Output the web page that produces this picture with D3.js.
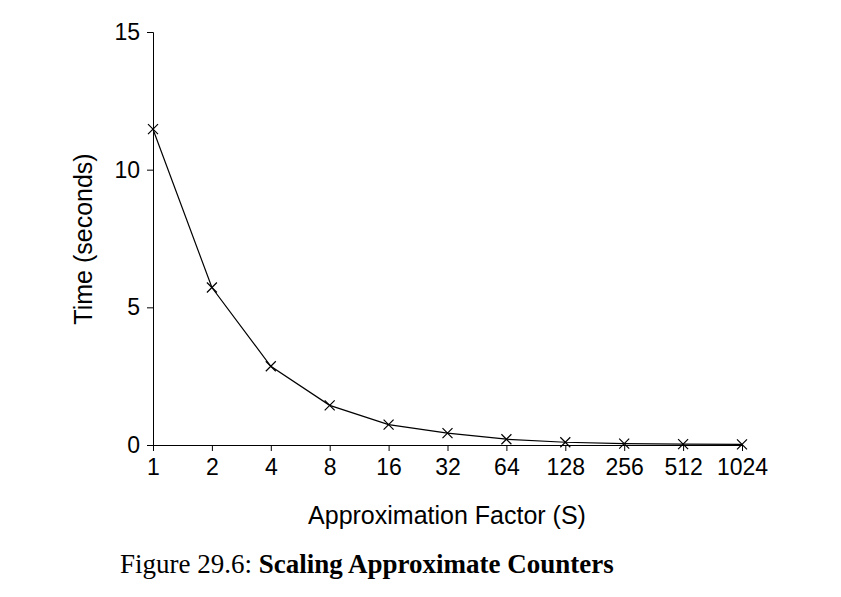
<!DOCTYPE html>
<html><head><meta charset="utf-8">
<script src="https://cdn.jsdelivr.net/npm/d3@7"></script>
<style>body{margin:0;background:#fff}</style>
</head><body>
<svg id="chart" width="841" height="597"></svg>
<script>
const factors = ["1","2","4","8","16","32","64","128","256","512","1024"];
const times = [11.47, 5.72, 2.86, 1.44, 0.74, 0.43, 0.21, 0.1, 0.05, 0.03, 0.02];
const yTicks = [0, 5, 10, 15];

const svg = d3.select("#chart");
const x = d3.scalePoint().domain(factors).range([153, 742]);
const y = d3.scaleLinear().domain([0, 15]).range([445, 32]);
const font = "'Liberation Sans', Arial, sans-serif";

const xAxis = svg.append("g").attr("transform", "translate(0,445)")
  .call(d3.axisBottom(x).tickSizeOuter(0).tickSize(6).tickPadding(8));
const yAxis = svg.append("g").attr("transform", "translate(153,0)")
  .call(d3.axisLeft(y).tickValues(yTicks).tickSizeOuter(0).tickSize(6).tickPadding(7));
[xAxis, yAxis].forEach(a => {
  a.attr("font-size", 23).attr("font-family", font);
  a.selectAll("text").attr("fill", "#000");
  a.selectAll("line,path").attr("stroke", "#000").attr("stroke-width", 1);
});

const line = d3.line().x((d, i) => x(factors[i])).y(d => y(d));
svg.append("path").datum(times).attr("d", line)
  .attr("fill", "none").attr("stroke", "#000").attr("stroke-width", 1.2);

const s = 5;
svg.append("g").selectAll("path").data(times).join("path")
  .attr("d", (d, i) => {
    const cx = x(factors[i]), cy = y(d);
    return `M${cx-s},${cy-s}L${cx+s},${cy+s}M${cx-s},${cy+s}L${cx+s},${cy-s}`;
  })
  .attr("stroke", "#000").attr("stroke-width", 1.2);

svg.append("text").attr("x", 447).attr("y", 524).attr("text-anchor", "middle")
  .attr("font-family", font).attr("font-size", 25).text("Approximation Factor (S)");
svg.append("text").attr("transform", "translate(92,239) rotate(-90)").attr("text-anchor", "middle")
  .attr("font-family", font).attr("font-size", 25).text("Time (seconds)");

const cap = svg.append("text").attr("x", 120).attr("y", 573)
  .attr("font-family", "'Liberation Serif', 'DejaVu Serif', serif").attr("font-size", 27);
cap.append("tspan").text("Figure 29.6: ");
cap.append("tspan").attr("font-weight", "bold").text("Scaling Approximate Counters");
</script>
</body></html>
